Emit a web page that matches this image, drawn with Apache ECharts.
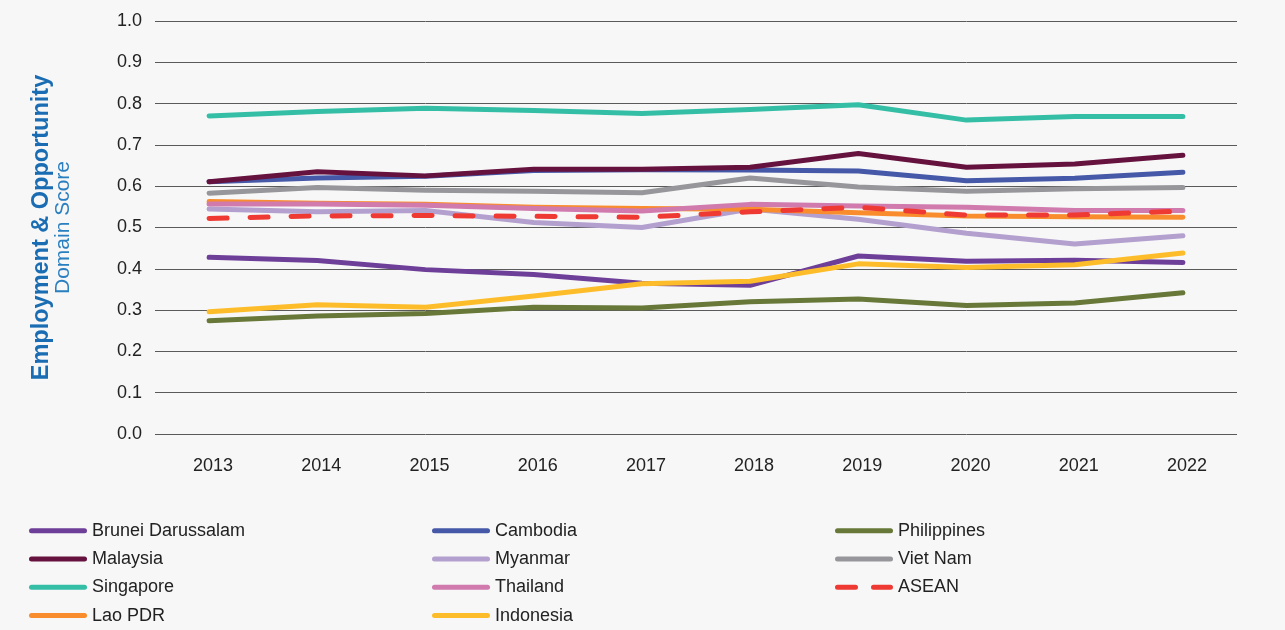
<!DOCTYPE html>
<html>
<head>
<meta charset="utf-8">
<script src="https://cdn.jsdelivr.net/npm/echarts@6/dist/echarts.min.js"></script>
<style>
  html, body { margin: 0; padding: 0; background: #f7f7f7; }
  #chart { width: 1285px; height: 630px; }
</style>
</head>
<body>
<div id="chart"></div>
<script>
var years = ['2013', '2014', '2015', '2016', '2017', '2018', '2019', '2020', '2021', '2022'];

var brunei      = [0.428, 0.420, 0.398, 0.386, 0.365, 0.360, 0.431, 0.418, 0.421, 0.415];
var cambodia    = [0.611, 0.620, 0.624, 0.638, 0.640, 0.639, 0.637, 0.613, 0.619, 0.634];
var philippines = [0.274, 0.286, 0.292, 0.307, 0.305, 0.320, 0.327, 0.311, 0.317, 0.342];
var malaysia    = [0.611, 0.635, 0.625, 0.641, 0.641, 0.646, 0.679, 0.646, 0.654, 0.675];
var myanmar     = [0.545, 0.538, 0.541, 0.512, 0.500, 0.545, 0.520, 0.486, 0.460, 0.480];
var vietnam     = [0.583, 0.597, 0.590, 0.588, 0.584, 0.620, 0.598, 0.588, 0.594, 0.597];
var singapore   = [0.770, 0.781, 0.789, 0.783, 0.776, 0.786, 0.797, 0.760, 0.769, 0.769];
var thailand    = [0.557, 0.557, 0.554, 0.546, 0.540, 0.556, 0.552, 0.549, 0.541, 0.541];
var asean       = [0.522, 0.528, 0.529, 0.527, 0.525, 0.538, 0.549, 0.530, 0.530, 0.540];
var laopdr      = [0.563, 0.559, 0.556, 0.549, 0.546, 0.544, 0.536, 0.528, 0.526, 0.525];
var indonesia   = [0.296, 0.313, 0.307, 0.334, 0.364, 0.370, 0.412, 0.403, 0.410, 0.438];

var yTicks = [0, 0.1, 0.2, 0.3, 0.4, 0.5, 0.6, 0.7, 0.8, 0.9, 1.0];

var legendCol1 = ['Brunei Darussalam', 'Malaysia', 'Singapore', 'Lao PDR'];
var legendCol2 = ['Cambodia', 'Myanmar', 'Thailand', 'Indonesia'];
var legendCol3 = ['Philippines', 'Viet Nam', 'ASEAN'];

var font = 'Liberation Sans, Arial, Helvetica, sans-serif';

var seriesList = [
  { name: 'Myanmar', data: myanmar, color: '#b3a0cf' },
  { name: 'Viet Nam', data: vietnam, color: '#97979b' },
  { name: 'Lao PDR', data: laopdr, color: '#f98d2d' },
  { name: 'Thailand', data: thailand, color: '#d07aae' },
  { name: 'Cambodia', data: cambodia, color: '#4658a8' },
  { name: 'Malaysia', data: malaysia, color: '#66123f' },
  { name: 'Singapore', data: singapore, color: '#35bea6' },
  { name: 'Philippines', data: philippines, color: '#677839' },
  { name: 'Brunei Darussalam', data: brunei, color: '#6e3f98' },
  { name: 'Indonesia', data: indonesia, color: '#fdbd2b' },
  { name: 'ASEAN', data: asean, color: '#ee3a32', dashed: true }
];

var myChart = echarts.init(document.getElementById('chart'));

// rounded bar icon, and two dashes for ASEAN
var solidIcon = 'path://M2.5,0 L55.5,0 A2.5,2.5 0 0 1 55.5,5 L2.5,5 A2.5,2.5 0 0 1 2.5,0 Z';
var dashIcon = 'path://M2.5,0 L20.5,0 A2.5,2.5 0 0 1 20.5,5 L2.5,5 A2.5,2.5 0 0 1 2.5,0 Z ' +
               'M38.5,0 L55.5,0 A2.5,2.5 0 0 1 55.5,5 L38.5,5 A2.5,2.5 0 0 1 38.5,0 Z';

function makeLegend(left, names) {
  return {
    orient: 'vertical',
    left: left,
    top: 521.7,
    padding: 0,
    itemWidth: 58,
    itemHeight: 5,
    itemGap: 10.3,
    textStyle: { fontFamily: font, fontSize: 18, lineHeight: 18, color: '#222' },
    selectedMode: false,
    data: names.map(function (n) {
      return { name: n, icon: n === 'ASEAN' ? dashIcon : solidIcon };
    })
  };
}

var option = {
  backgroundColor: '#f7f7f7',
  animation: false,
  grid: { left: 155, right: 48, top: 21, bottom: 196 },
  legend: [makeLegend(29, legendCol1), makeLegend(432, legendCol2), makeLegend(835, legendCol3)],
  xAxis: {
    type: 'category',
    data: years,
    boundaryGap: true,
    axisLine: { show: false },
    axisTick: { show: false },
    axisLabel: { margin: 23, padding: [0, 0, 0, 8], fontFamily: font, fontSize: 18, color: '#222' }
  },
  yAxis: {
    type: 'value',
    min: yTicks[0],
    max: yTicks[yTicks.length - 1],
    interval: 0.1,
    axisLine: { show: false },
    axisTick: { show: false },
    axisLabel: {
      margin: 13,
      fontFamily: font, fontSize: 18, color: '#222',
      formatter: function (v) { return v.toFixed(1); }
    },
    splitLine: { lineStyle: { color: '#5a5a5a', width: 1 } },
    name: '{a|Employment & Opportunity}\n{b|Domain Score}',
    nameLocation: 'middle',
    nameRotate: 90,
    nameGap: 83,
    nameTextStyle: {
      rich: {
        a: { fontFamily: font, fontSize: 23.5, fontWeight: 'bold', color: '#1b6db3', lineHeight: 24, align: 'center' },
        b: { fontFamily: font, fontSize: 21, color: '#2a7fc0', lineHeight: 18, align: 'center' }
      }
    }
  },
  series: seriesList.map(function (s) {
    return {
      name: s.name,
      type: 'line',
      data: s.data,
      symbol: 'none',
      color: s.color,
      lineStyle: {
        width: 5,
        color: s.color,
        type: s.dashed ? [18, 23] : 'solid',
        cap: 'round',
        join: 'round'
      }
    };
  })
};

myChart.setOption(option);
</script>
</body>
</html>
